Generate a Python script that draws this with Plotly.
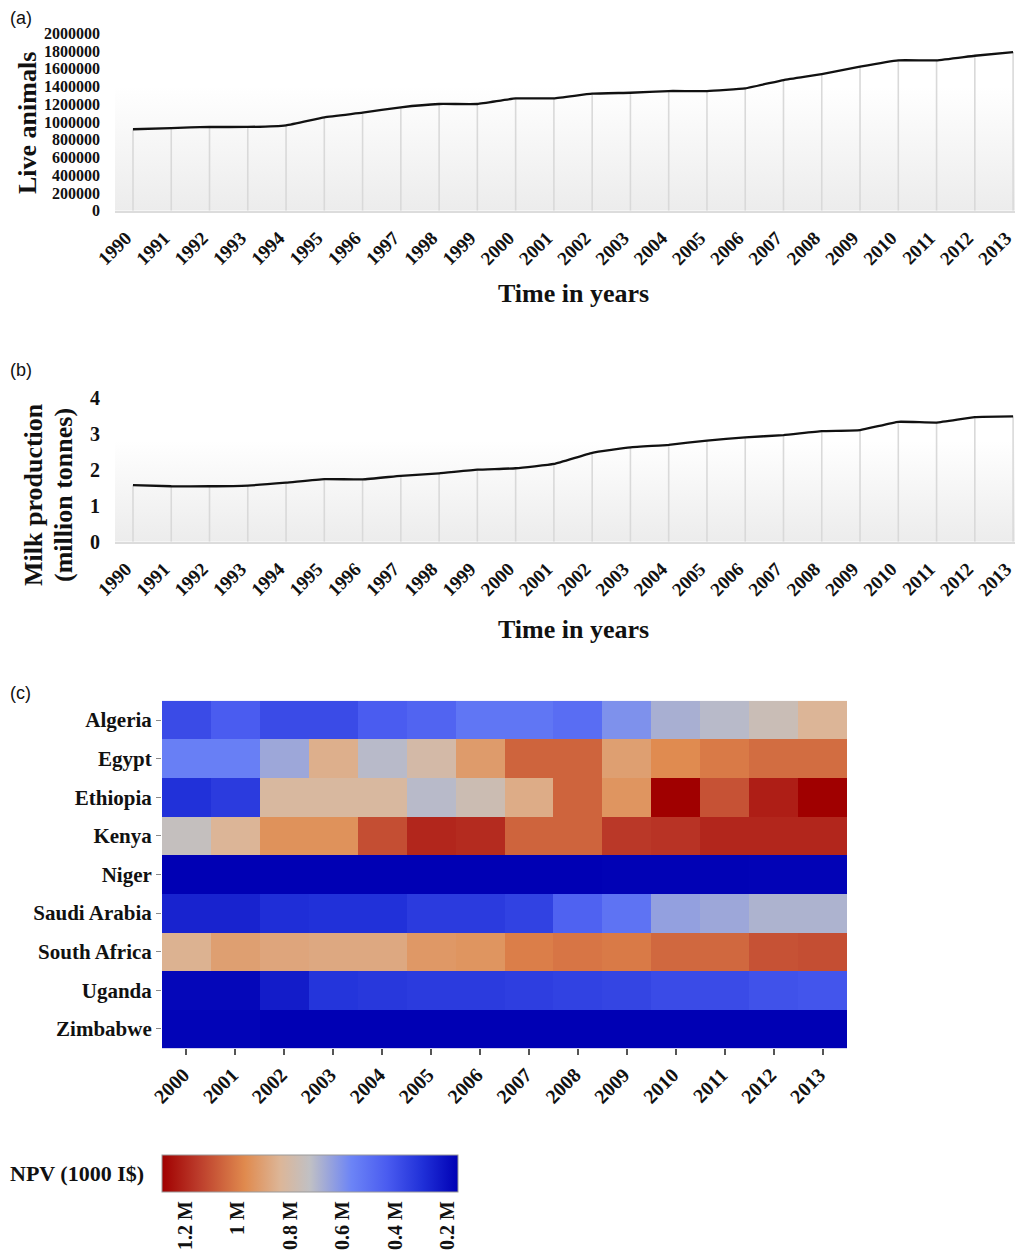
import base64
import plotly.graph_objects as go

# ---------------- data ----------------
years = list(range(1990, 2014))
live_animals = [918000, 932000, 944000, 944000, 963000, 1053000, 1105000, 1166000,
                1203000, 1203000, 1266000, 1267000, 1319000, 1330000, 1349000, 1349000,
                1380000, 1473000, 1541000, 1624000, 1695000, 1695000, 1747000, 1789000]
milk_production = [1.57, 1.54, 1.54, 1.56, 1.64, 1.74, 1.73, 1.83, 1.90, 2.00, 2.04, 2.16,
                   2.47, 2.62, 2.69, 2.81, 2.90, 2.96, 3.07, 3.10, 3.33, 3.31, 3.46, 3.48]

hm_years = list(range(2000, 2014))
countries = ["Algeria", "Egypt", "Ethiopia", "Kenya", "Niger", "Saudi Arabia",
             "South Africa", "Uganda", "Zimbabwe"]
npv_algeria = [380000, 430000, 380000, 380000, 430000, 460000, 520000, 520000, 490000, 600000, 680000, 710000, 760000, 840000]
npv_egypt = [550000, 550000, 660000, 860000, 710000, 800000, 920000, 1060000, 1060000, 910000, 970000, 1010000, 1040000, 1040000]
npv_ethiopia = [300000, 330000, 820000, 820000, 820000, 710000, 770000, 870000, 1060000, 940000, 1290000, 1100000, 1220000, 1290000]
npv_kenya = [740000, 840000, 950000, 950000, 1110000, 1200000, 1190000, 1060000, 1060000, 1160000, 1170000, 1200000, 1200000, 1200000]
npv_niger = [160000, 160000, 160000, 160000, 160000, 160000, 160000, 160000, 160000, 165000, 165000, 165000, 168000, 168000]
npv_saudi = [260000, 260000, 290000, 300000, 300000, 330000, 330000, 350000, 450000, 510000, 640000, 660000, 690000, 690000]
npv_south_africa = [850000, 910000, 890000, 880000, 880000, 930000, 940000, 1000000, 1020000, 1010000, 1050000, 1050000, 1100000, 1110000]
npv_uganda = [180000, 180000, 240000, 310000, 320000, 330000, 330000, 340000, 350000, 360000, 380000, 380000, 400000, 410000]
npv_zimbabwe = [170000, 170000, 160000, 160000, 160000, 160000, 160000, 160000, 160000, 160000, 160000, 160000, 160000, 160000]
npv = [npv_algeria, npv_egypt, npv_ethiopia, npv_kenya, npv_niger, npv_saudi,
       npv_south_africa, npv_uganda, npv_zimbabwe]

cbar_tickvals = [1200000, 1000000, 800000, 600000, 400000, 200000]
cbar_ticktext = ["1.2 M", "1 M", "0.8 M", "0.6 M", "0.4 M", "0.2 M"]
npv_min, npv_max = 160000, 1290000

# ---------------- styling ----------------
W, H = 1017, 1258
SERIF = "Liberation Serif, Times New Roman, serif"
SANS = "Liberation Sans, Arial, sans-serif"
BLACK = "#111111"


def bold(size):
    return dict(family=SERIF, size=size, color=BLACK, weight="bold")


def px_y(py):
    return 1 - py / H


def px_x(px):
    return px / W


fig = go.Figure()

# drop lines + line for (a)
fig.add_trace(go.Scatter(
    x=years, y=live_animals, mode="markers", marker=dict(size=1, opacity=0),
    error_y=dict(type="data", symmetric=False, array=[0] * len(years),
                 arrayminus=live_animals, width=0, thickness=1.6, color="#d9d9d9"),
    hoverinfo="skip", showlegend=False, xaxis="x", yaxis="y", cliponaxis=False))
fig.add_trace(go.Scatter(
    x=years, y=live_animals, mode="lines",
    line=dict(color="#111111", width=2.3, shape="spline", smoothing=0.35),
    showlegend=False, xaxis="x", yaxis="y", cliponaxis=False))

# drop lines + line for (b)
fig.add_trace(go.Scatter(
    x=years, y=milk_production, mode="markers", marker=dict(size=1, opacity=0),
    error_y=dict(type="data", symmetric=False, array=[0] * len(years),
                 arrayminus=milk_production, width=0, thickness=1.6, color="#d9d9d9"),
    hoverinfo="skip", showlegend=False, xaxis="x2", yaxis="y2", cliponaxis=False))
fig.add_trace(go.Scatter(
    x=years, y=milk_production, mode="lines",
    line=dict(color="#111111", width=2.3, shape="spline", smoothing=0.35),
    showlegend=False, xaxis="x2", yaxis="y2", cliponaxis=False))

# heatmap (c) - values negated so that high values sit at the left of the colorbar
z_plot = [[-v for v in row] for row in npv]
colorscale = [
    [0.00, "#a00000"],
    [0.12, "#bb3a2a"],
    [0.28, "#e08a4e"],
    [0.40, "#dcb698"],
    [0.50, "#c0c0c4"],
    [0.64, "#6c84f6"],
    [0.76, "#4a5cf0"],
    [0.88, "#2030d8"],
    [1.00, "#0000b4"],
]
fig.add_trace(go.Heatmap(
    x=hm_years, y=countries, z=z_plot, customdata=npv,
    hovertemplate="%{y} %{x}: %{customdata}<extra></extra>",
    colorscale=colorscale, zmin=-npv_max, zmax=-npv_min,
    xgap=0, ygap=0, xaxis="x3", yaxis="y3",
    colorbar=dict(
        orientation="h", x=px_x(310), xanchor="center", y=px_y(1155), yanchor="top",
        len=296, lenmode="pixels", thickness=37, thicknessmode="pixels",
        outlinewidth=1, outlinecolor="#9a9a9a", xpad=0, ypad=0,
        tickvals=[-v for v in cbar_tickvals], ticktext=cbar_ticktext,
        tickangle=-90, ticks="", tickfont=bold(20), ticklabelposition="outside",
    ),
))

# gradient background for line panels (svg image)
svg = ('<svg xmlns="http://www.w3.org/2000/svg" width="100" height="100" viewBox="0 0 100 100" '
       'preserveAspectRatio="none"><defs><linearGradient id="g" x1="0" y1="0" x2="0" y2="1">'
       '<stop offset="0" stop-color="#ffffff"/><stop offset="0.3" stop-color="#ffffff"/>'
       '<stop offset="1" stop-color="#ececec"/></linearGradient></defs>'
       '<rect x="0" y="0" width="100" height="100" fill="url(#g)"/></svg>')
svg_src = "data:image/svg+xml;base64," + base64.b64encode(svg.encode()).decode()

images = []
for xr, yr in (("x domain", "y domain"), ("x2 domain", "y2 domain")):
    images.append(dict(source=svg_src, xref=xr, yref=yr, x=0, y=1, sizex=1, sizey=1,
                       xanchor="left", yanchor="top", sizing="stretch", layer="below"))

line_x_domain = [px_x(115), px_x(1015)]
x_range = [1989.53, 2013.05]

common_x = dict(
    range=x_range, tickmode="array", tickvals=years, ticktext=[str(y) for y in years],
    tickangle=-45, tickfont=bold(19), showgrid=False, zeroline=False, automargin=False,
    showline=True, linecolor="#dcdcdc", linewidth=1.5, ticks="", ticklabelstandoff=7,
    ticklabeloverflow="allow", ticklabelshift=-7,
)


def ann(text, x, y, font, angle=0, xanchor="center", yanchor="middle"):
    return dict(text=text, x=px_x(x), y=px_y(y), xref="paper", yref="paper",
                xanchor=xanchor, yanchor=yanchor, textangle=angle, showarrow=False,
                font=font)


panel_font = dict(family=SANS, size=18, color=BLACK)
annotations = [
    ann("(a)", 8, 6, panel_font, xanchor="left", yanchor="top"),
    ann("(b)", 8, 358, panel_font, xanchor="left", yanchor="top"),
    ann("(c)", 8, 681, panel_font, xanchor="left", yanchor="top"),
    ann("Live animals", 27, 123, bold(26), angle=-90),
    ann("Time in years", 573, 294, bold(26)),
    ann("Milk production", 33, 495, bold(26), angle=-90),
    ann("(million tonnes)", 63, 495, bold(26), angle=-90),
    ann("Time in years", 573, 629, bold(26)),
    ann("NPV (1000 I$)", 77, 1173, bold(22)),
]

fig.update_layout(
    width=W, height=H, autosize=False,
    margin=dict(l=0, r=0, t=0, b=0, pad=0, autoexpand=False),
    paper_bgcolor="white", plot_bgcolor="rgba(0,0,0,0)",
    showlegend=False,
    images=images,
    annotations=annotations,
    xaxis=dict(domain=line_x_domain, anchor="y", **common_x),
    yaxis=dict(domain=[px_y(210.7), px_y(33.3)], anchor="x", range=[0, 2000000],
               dtick=200000, tickformat="d", showgrid=False, zeroline=False, automargin=False,
               tickfont=bold(16), ticklabelstandoff=14),
    xaxis2=dict(domain=line_x_domain, anchor="y2", **common_x),
    yaxis2=dict(domain=[px_y(541.7), px_y(397.7)], anchor="x2", range=[0, 4],
                dtick=1, showgrid=False, zeroline=False, automargin=False,
                tickfont=bold(20), ticklabelstandoff=14),
    xaxis3=dict(domain=[px_x(162), px_x(847)], anchor="y3", tickmode="array",
                tickvals=hm_years, ticktext=[str(y) for y in hm_years], tickangle=-45,
                tickfont=bold(20), ticks="outside", ticklen=6, tickcolor="#555555",
                tickwidth=1.5, showgrid=False, zeroline=False, showline=False,
                automargin=False, ticklabelshift=-3),
    yaxis3=dict(domain=[px_y(1048.3), px_y(700.7)], anchor="x3", autorange="reversed",
                type="category", tickfont=bold(21), ticks="outside", ticklen=5,
                tickcolor="#888888", showgrid=False, zeroline=False, showline=False,
                automargin=False),
)

fig.write_html(
    "out.html",
    config={"displayModeBar": False},
    post_script="document.body.style.margin='0px';document.body.style.overflow='hidden';",
)
